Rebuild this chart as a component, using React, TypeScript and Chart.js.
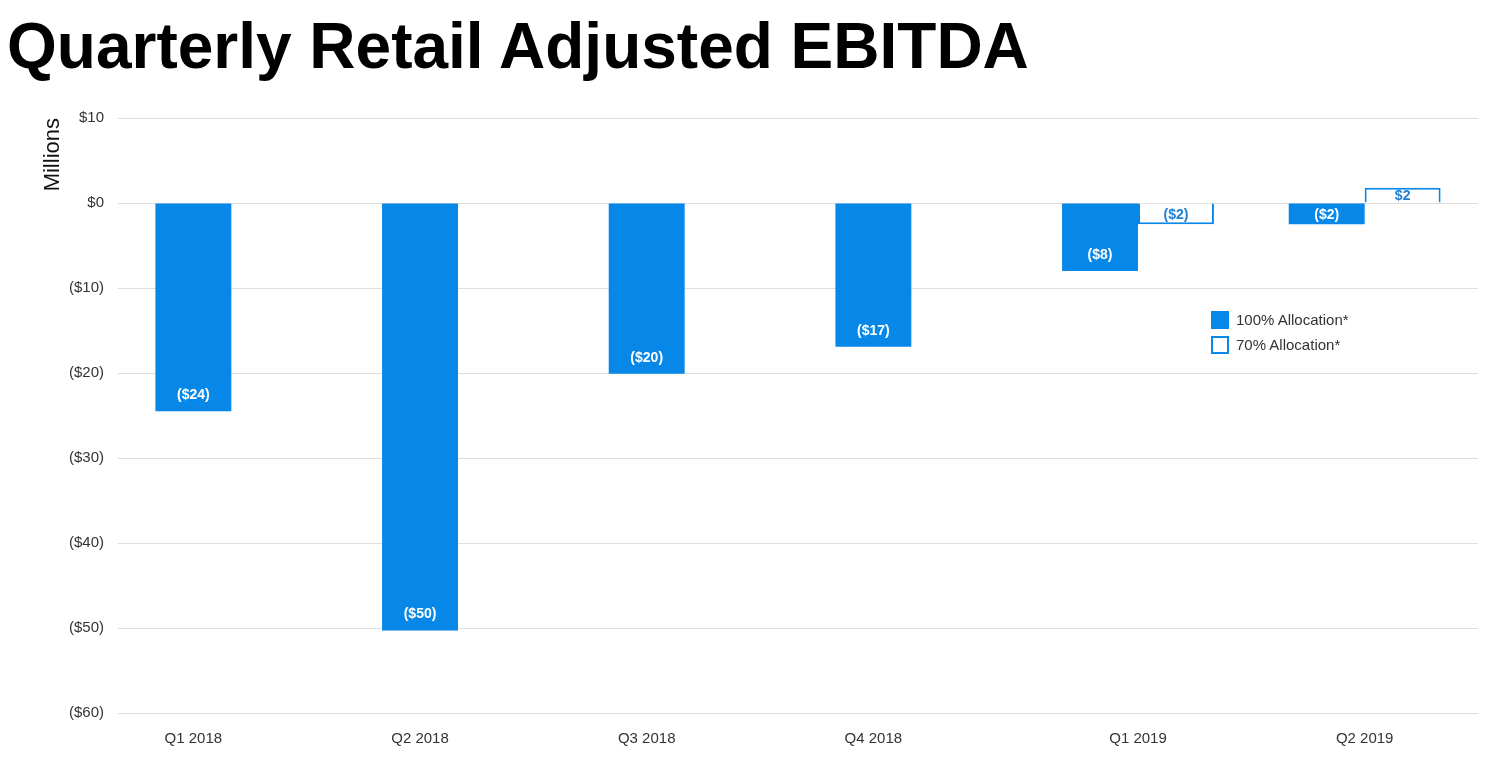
import React, { useEffect, useRef } from 'react';
import { Chart, registerables } from 'chart.js';

Chart.register(...registerables);

const categories = ['Q1 2018', 'Q2 2018', 'Q3 2018', 'Q4 2018', 'Q1 2019', 'Q2 2019'];
const seriesNames = ['100% Allocation*', '70% Allocation*'];
const allocation100: (number | null)[] = [-24.5, -50.3, -20.1, -16.9, -8.0, -2.5];
const allocation70: (number | null)[] = [null, null, null, null, -2.5, 1.8];
const labels100: (string | null)[] = ['($24)', '($50)', '($20)', '($17)', '($8)', '($2)'];
const labels70: (string | null)[] = [null, null, null, null, '($2)', '$2'];
const yMin = -60;
const yMax = 10;
const yStep = 10;

const BLUE = '#0788e8';
const FONT = '"Liberation Sans", Arial, Helvetica, sans-serif';

const valueLabels = {
  id: 'valueLabels',
  afterDatasetsDraw(chart: any) {
    const ctx = chart.ctx;
    const texts = [labels100, labels70];
    const colors = ['#ffffff', '#1b7fd6'];
    ctx.save();
    ctx.font = `bold 14px ${FONT}`;
    ctx.textAlign = 'center';
    ctx.textBaseline = 'middle';
    chart.data.datasets.forEach((_ds: any, di: number) => {
      const meta = chart.getDatasetMeta(di);
      meta.data.forEach((bar: any, i: number) => {
        const t = texts[di][i];
        if (t == null) return;
        const { x, y, base } = bar.getProps(['x', 'y', 'base'], true);
        const h = Math.abs(base - y);
        const ty = h > 40 ? (y > base ? y - 17 : y + 17) : (y + base) / 2;
        ctx.fillStyle = colors[di];
        ctx.fillText(t, x, ty + 1);
      });
    });
    ctx.restore();
  },
};

const categoryLabels = {
  id: 'categoryLabels',
  afterDraw(chart: any) {
    const ctx = chart.ctx;
    ctx.save();
    ctx.font = `15px ${FONT}`;
    ctx.fillStyle = '#333333';
    ctx.textAlign = 'center';
    ctx.textBaseline = 'middle';
    categories.forEach((c, i) => {
      const xs: number[] = [];
      chart.data.datasets.forEach((ds: any, di: number) => {
        if (ds.data[i] != null) xs.push(chart.getDatasetMeta(di).data[i].x);
      });
      if (!xs.length) return;
      const x = xs.reduce((a, b) => a + b, 0) / xs.length;
      ctx.fillText(c, x, chart.chartArea.bottom + 26);
    });
    ctx.restore();
  },
};

function ChartCanvas() {
  const ref = useRef<HTMLCanvasElement | null>(null);
  useEffect(() => {
    if (!ref.current) return;
    Chart.defaults.font.family = FONT;
    const chart = new Chart(ref.current, {
      type: 'bar',
      data: {
        labels: categories,
        datasets: [
          {
            label: seriesNames[0],
            data: allocation100,
            backgroundColor: BLUE,
            borderWidth: 0,
          },
          {
            label: seriesNames[1],
            data: allocation70,
            backgroundColor: '#ffffff',
            borderColor: BLUE,
            borderWidth: 2,
          },
        ],
      },
      options: {
        animation: false,
        responsive: false,
        maintainAspectRatio: false,
        layout: { padding: { top: 28, right: 26, bottom: 0, left: 0 } },
        datasets: { bar: { categoryPercentage: 0.67, barPercentage: 1 } },
        plugins: {
          legend: { display: false },
          tooltip: { enabled: false },
        },
        scales: {
          x: {
            grid: { display: false },
            border: { display: false },
            ticks: { display: false },
            afterFit: (s: any) => {
              s.height = 46;
            },
          },
          y: {
            min: yMin,
            max: yMax,
            grid: { color: '#dedede', lineWidth: 1, drawTicks: false },
            border: { display: false },
            ticks: {
              stepSize: yStep,
              padding: 14,
              color: '#333333',
              font: { size: 15 },
              callback: (v: any) => (v === 0 ? '$0' : v < 0 ? `($${-v})` : `$${v}`),
            },
            title: {
              display: true,
              text: 'Millions',
              align: 'end',
              color: '#111111',
              font: { size: 22 },
              padding: { top: 40, bottom: 0 },
            },
            afterFit: (s: any) => {
              s.width = 118;
            },
          },
        },
      },
      plugins: [valueLabels, categoryLabels],
    } as any);
    return () => chart.destroy();
  }, []);
  return (
    <canvas
      ref={ref}
      width={1504}
      height={669}
      style={{ position: 'absolute', left: 0, top: 90, width: 1504, height: 669 }}
    />
  );
}

export default function App() {
  const sq: React.CSSProperties = { position: 'absolute', width: 18, height: 18, boxSizing: 'border-box' };
  const txt: React.CSSProperties = {
    position: 'absolute',
    fontFamily: FONT,
    fontSize: 15,
    color: '#333333',
    lineHeight: '18px',
    whiteSpace: 'nowrap',
  };
  return (
    <div
      style={{
        position: 'fixed',
        left: 0,
        top: 0,
        width: 1504,
        height: 759,
        background: '#ffffff',
        overflow: 'hidden',
      }}
    >
      <div
        style={{
          position: 'absolute',
          left: 7,
          top: 14,
          fontFamily: FONT,
          fontWeight: 'bold',
          fontSize: 64,
          lineHeight: '64px',
          color: '#000000',
          whiteSpace: 'nowrap',
        }}
      >
        Quarterly Retail Adjusted EBITDA
      </div>
      <ChartCanvas />
      <div style={{ ...sq, left: 1211, top: 311, background: BLUE }} />
      <div style={{ ...txt, left: 1236, top: 311 }}>{seriesNames[0]}</div>
      <div style={{ ...sq, left: 1211, top: 336, background: '#fff', border: `2px solid ${BLUE}` }} />
      <div style={{ ...txt, left: 1236, top: 336 }}>{seriesNames[1]}</div>
    </div>
  );
}
